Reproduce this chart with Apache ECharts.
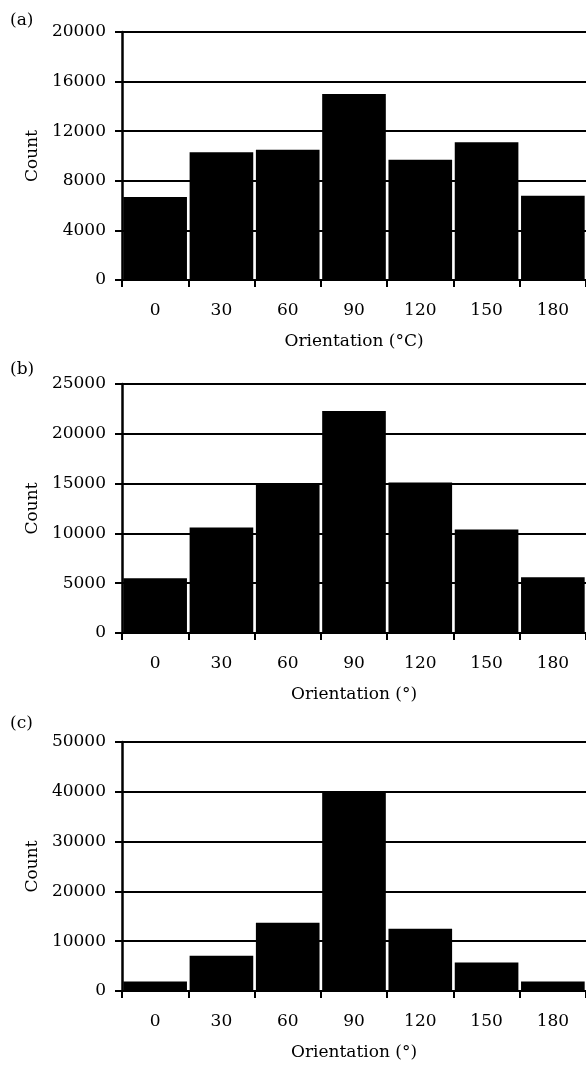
<!DOCTYPE html>
<html>
<head>
<meta charset="utf-8">
<script src="https://cdn.jsdelivr.net/npm/echarts@6/dist/echarts.min.js"></script>
<style>
html,body{margin:0;padding:0;background:#fff;}
#chart{width:586px;height:1066px;}
</style>
</head>
<body>
<div id="chart"></div>
<script>
const categories = ['0','30','60','90','120','150','180'];
const countsA = [6700, 10300, 10500, 15000, 9700, 11100, 6800];
const countsB = [5500, 10600, 15000, 22300, 15100, 10400, 5600];
const countsC = [1900, 7100, 13700, 40100, 12500, 5700, 1900];
const panelLabels = ['(a)', '(b)', '(c)'];
const xNames = ['Orientation (°C)', 'Orientation (°)', 'Orientation (°)'];
const yMax = [20000, 25000, 50000];
const yStep = [4000, 5000, 10000];

const FONT = 'DejaVu Serif';
const FS = 17;
const gridTops = [32, 384, 742];
const gridH = [248, 249, 249];
const labelTops = [7, 356, 710];
const series = [countsA, countsB, countsC];

const option = {
  animation: false,
  backgroundColor: '#fff',
  textStyle: {fontFamily: FONT, color: '#000'},
  title: panelLabels.map((t, i) => ({
    text: t, left: 5, top: labelTops[i],
    textStyle: {fontFamily: FONT, fontSize: FS, fontWeight: 'normal', color: '#000'}
  })),
  grid: gridTops.map((t, i) => ({left: 122, right: 0, top: t, height: gridH[i]})),
  xAxis: [0,1,2].map(i => ({
    type: 'category', gridIndex: i, data: categories,
    boundaryGap: true,
    axisLine: {show: false},
    axisTick: {show: true, length: 7, lineStyle: {color: '#000', width: 2}},
    axisLabel: {color: '#000', fontFamily: FONT, fontSize: FS, margin: 22},
    name: xNames[i], nameLocation: 'middle', nameGap: 53,
    nameTextStyle: {color: '#000', fontFamily: FONT, fontSize: FS}
  })),
  yAxis: [0,1,2].map(i => ({
    type: 'value', gridIndex: i, min: 0, max: yMax[i], interval: yStep[i],
    axisLine: {show: true, lineStyle: {color: '#000', width: 2.5}},
    axisTick: {show: true, length: 7, lineStyle: {color: '#000', width: 2}},
    axisLabel: {color: '#000', fontFamily: FONT, fontSize: FS, margin: 16,
      formatter: v => String(v)},
    splitLine: {show: true, lineStyle: {color: '#000', width: 2}},
    name: 'Count', nameLocation: 'middle', nameGap: 80, nameRotate: 90,
    nameTextStyle: {color: '#000', fontFamily: FONT, fontSize: FS}
  })),
  series: series.map((d, i) => ({
    type: 'bar', xAxisIndex: i, yAxisIndex: i, data: d,
    barCategoryGap: '4%',
    itemStyle: {color: '#000'}
  }))
};

const chart = echarts.init(document.getElementById('chart'), null, {renderer: 'canvas'});
chart.setOption(option);
</script>
</body>
</html>
